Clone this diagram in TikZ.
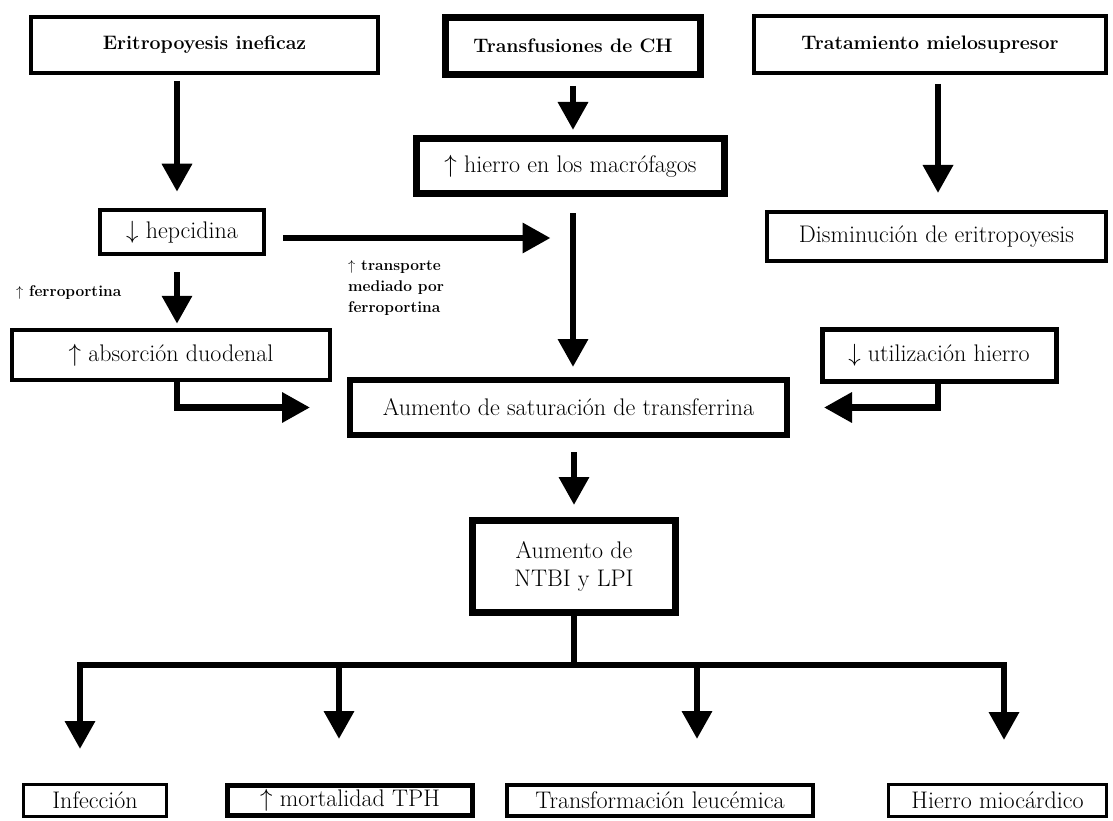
\documentclass[tikz,border=0pt]{standalone}
\usepackage{amssymb}
\usepackage{tikz}
\usetikzlibrary{arrows.meta, calc, positioning}

\begin{document}
\begin{tikzpicture}[x=1pt, y=-1pt,
                        box/.style={draw, line width=#1, inner sep=0pt, align=center, font=\fontsize{24}{28}\selectfont},
                        box/.default=4pt,
                        head/.style={box=#1, font=\fontsize{19.5}{23}\selectfont\bfseries},
                        head/.default=4pt,
                        note/.style={inner sep=0pt, align=left, font=\fontsize{15.5}{21}\selectfont\bfseries},
                        flow/.style={line width=6.5pt},
                        >={Triangle[width=29pt, length=28pt]}]
                        \useasboundingbox (0, 0) rectangle (1113, 821);

                        \node[head, minimum width=347pt, minimum height=56pt] (erit) at (204.5, 45) {Eritropoyesis ineficaz};
                        \node[head=7pt, minimum width=255pt, minimum height=57pt] (transf) at (573, 46) {Transfusiones de CH};
                        \node[head, minimum width=352pt, minimum height=57pt] (trat) at (930, 44.5) {Tratamiento mielosupresor};

                        \node[box=7pt, minimum width=308pt, minimum height=55pt] (hierro) at (570.5, 166) {$\uparrow$ hierro en los macrófagos};
                        \node[box=4.5pt, minimum width=164pt, minimum height=44pt] (hepc) at (182, 232) {$\downarrow$ hepcidina};
                        \node[box, minimum width=339pt, minimum height=49pt] (dism) at (936.5, 236.5) {Disminución de eritropoyesis};
                        \node[box=4.5pt, minimum width=318pt, minimum height=50pt] (absor) at (171, 355) {$\uparrow$ absorción duodenal};
                        \node[box=5pt, minimum width=234pt, minimum height=52pt] (util) at (939, 355) {$\downarrow$ utilización hierro};
                        \node[box=6pt, minimum width=437pt, minimum height=55pt] (satur) at (568.5, 407.5) {Aumento de saturación de transferrina};
                        \node[box=7pt, minimum width=203pt, minimum height=92pt] (ntbi) at (574, 566.5) {Aumento de\\NTBI y LPI};

                        \node[box=3pt, minimum width=143pt, minimum height=32pt] (inf) at (95, 800.5) {Infección};
                        \node[box=5pt, minimum width=245pt, minimum height=30pt] (mort) at (350, 800.5) {$\uparrow$ mortalidad TPH};
                        \node[box, minimum width=306pt, minimum height=31pt] (leuc) at (660, 800.5) {Transformación leucémica};
                        \node[box=3pt, minimum width=218pt, minimum height=32pt] (mioc) at (997.5, 800.5) {Hierro miocárdico};

                        \node[note, anchor=west] (fplab) at (16, 293) {$\uparrow$ ferroportina};
                        \node[note, anchor=north west] (tplab) at (348, 260) {$\uparrow$ transporte\\mediado por\\ferroportina};

                        \draw[flow, ->] ($(hepc.north |- erit.south)+(-5, 6)$) -- ($(hepc.north)+(-5, -16)$);
                        \draw[flow, ->] ($(transf.south)+(0, 8)$) -- ($(transf.south |- hierro.north)+(0, -5)$);
                        \draw[flow, ->] ($(dism.north |- trat.south)+(1.5, 9)$) -- ($(dism.north)+(1.5, -17)$);
                        \draw[flow, ->] ($(transf.south |- hierro.south)+(0, 16)$) -- ($(transf.south |- satur.north)+(0, -10)$);
                        \draw[flow, ->] ($(hepc.east)+(17, 6)$) -- ($(hepc.east -| hierro.south)+(-20, 6)$);
                        \draw[flow, ->] ($(hepc.south)+(-5, 16)$) -- ($(absor.north -| hepc.south)+(-5, -4)$);
                        \draw[flow, ->] ($(absor.south -| hepc.south)+(-5, 0)$) |- ($(satur.west)+(-37, 0)$);
                        \draw[flow, ->] ($(util.south)+(-1, 0)$) |- ($(satur.east)+(34, 0)$);
                        \draw[flow, ->] ($(satur.south -| ntbi.north)+(0, 14)$) -- ($(ntbi.north)+(0, -12)$);

                        \coordinate (bj) at ($(ntbi.south)+(0, 49)$);
                        \draw[flow] (ntbi.south) -- (bj);
                        \draw[flow, <->] ($(inf.north)+(-15, -34)$) -- ($(inf.north |- bj)+(-15, 0)$) -- ($(mioc.north |- bj)+(6.5, 0)$) -- ($(mioc.north)+(6.5, -43)$);
                        \draw[flow, ->] ($(mort.north |- bj)+(-11, 0)$) -- ($(mort.north)+(-11, -44)$);
                        \draw[flow, ->] ($(leuc.north |- bj)+(37, 0)$) -- ($(leuc.north)+(37, -44)$);
                    \end{tikzpicture}
\end{document}
